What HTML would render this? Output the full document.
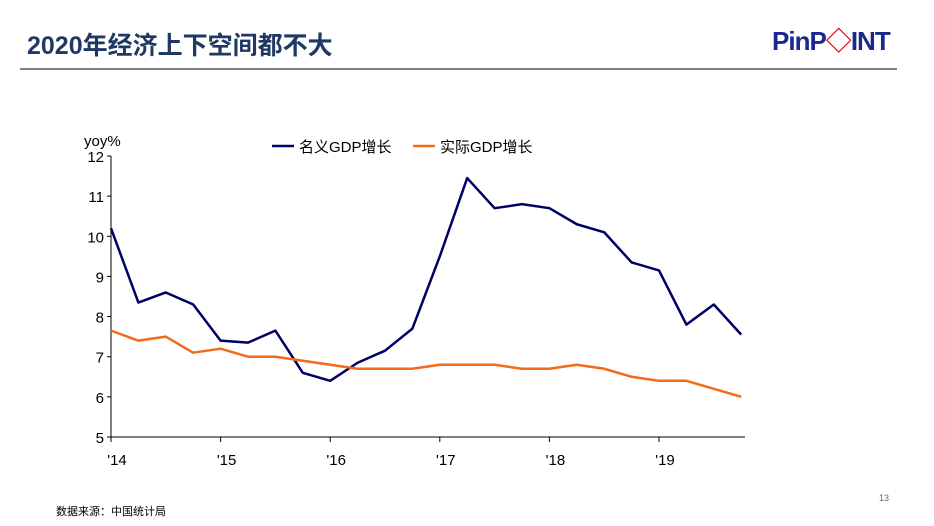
<!DOCTYPE html>
<html><head><meta charset="utf-8">
<style>
body{margin:0;width:934px;height:526px;background:#fff;overflow:hidden;font-family:"Liberation Sans","Noto Sans CJK SC",sans-serif;position:relative}
.title{position:absolute;left:27px;top:26px;font-size:25px;font-weight:bold;color:#1f3864}
.rule{position:absolute;left:20px;top:68px;width:877px;height:2px;background:#7f7f7f}
.logo{position:absolute;left:772px;top:21px;font-size:26px;font-weight:bold;color:#1a2a8c;letter-spacing:-1px}
.logo .o{color:#e0001b}
.src{position:absolute;left:56px;top:503px;font-size:11px;color:#000}
.pg{position:absolute;left:879px;top:493px;font-size:9px;color:#666}
</style></head><body>
<div class="title">2020年经济上下空间都不大</div>
<div class="rule"></div>
<div class="logo">PinP<span class="o">◇</span>INT</div>
<svg id="chart" width="934" height="526" style="position:absolute;left:0;top:0"></svg>
<div class="src">数据来源：中国统计局</div>
<div class="pg">13</div>
<script>
const nominal=[10.2,8.35,8.6,8.3,7.4,7.35,7.65,6.6,6.4,6.85,7.15,7.7,9.5,11.45,10.7,10.8,10.7,10.3,10.1,9.35,9.15,7.8,8.3,7.55];
const real=[7.65,7.4,7.5,7.1,7.2,7.0,7.0,6.9,6.8,6.7,6.7,6.7,6.8,6.8,6.8,6.7,6.7,6.8,6.7,6.5,6.4,6.4,6.2,6.0];
const yTicks=[5,6,7,8,9,10,11,12];
const xLabels=["'14","'15","'16","'17","'18","'19"];
const seriesNames=["名义GDP增长","实际GDP增长"];
const NS="http://www.w3.org/2000/svg";
const svg=document.getElementById('chart');
const x0=111,dx=27.4,yTop=156,yBot=437;
const X=i=>x0+i*dx;
const Y=v=>yBot-(v-5)/(12-5)*(yBot-yTop);
function mk(t,a){const e=document.createElementNS(NS,t);for(const k in a)e.setAttribute(k,a[k]);svg.appendChild(e);return e;}
let e=mk('line',{x1:x0,y1:yTop,x2:x0,y2:yBot,stroke:'#000','stroke-width':1});

e=mk('line',{x1:x0,y1:yBot,x2:745,y2:yBot,stroke:'#000','stroke-width':1});

yTicks.forEach(v=>{
 mk('line',{x1:x0-4,y1:Y(v),x2:x0,y2:Y(v),stroke:'#000'});
 const t=mk('text',{x:x0-7,y:Y(v)+6,'text-anchor':'end','font-size':15,fill:'#000'});t.textContent=v;
 
});
xLabels.forEach((l,i)=>{
 const x=X(i*4);
 mk('line',{x1:x,y1:yBot,x2:x,y2:yBot+5,stroke:'#000'});
 const t=mk('text',{x:x+6,y:yBot+28,'text-anchor':'middle','font-size':15,fill:'#000'});t.textContent=l;
 
});
let t=mk('text',{x:84,y:146,'font-size':15,fill:'#000'});t.textContent='yoy%';

const cols=['#000066','#f26a1b'];
[nominal,real].forEach((d,k)=>{
 const p=mk('polyline',{points:d.map((v,i)=>X(i)+','+Y(v)).join(' '),fill:'none',stroke:cols[k],'stroke-width':2.5,'stroke-linejoin':'round'});
 
});
[[272,0],[413,1]].forEach(([lx,k])=>{
 mk('line',{x1:lx,y1:146,x2:lx+22,y2:146,stroke:cols[k],'stroke-width':2.5});
 const tt=mk('text',{x:lx+27,y:152,'font-size':15,fill:'#000'});tt.textContent=seriesNames[k];
 
});
</script>
</body></html>
